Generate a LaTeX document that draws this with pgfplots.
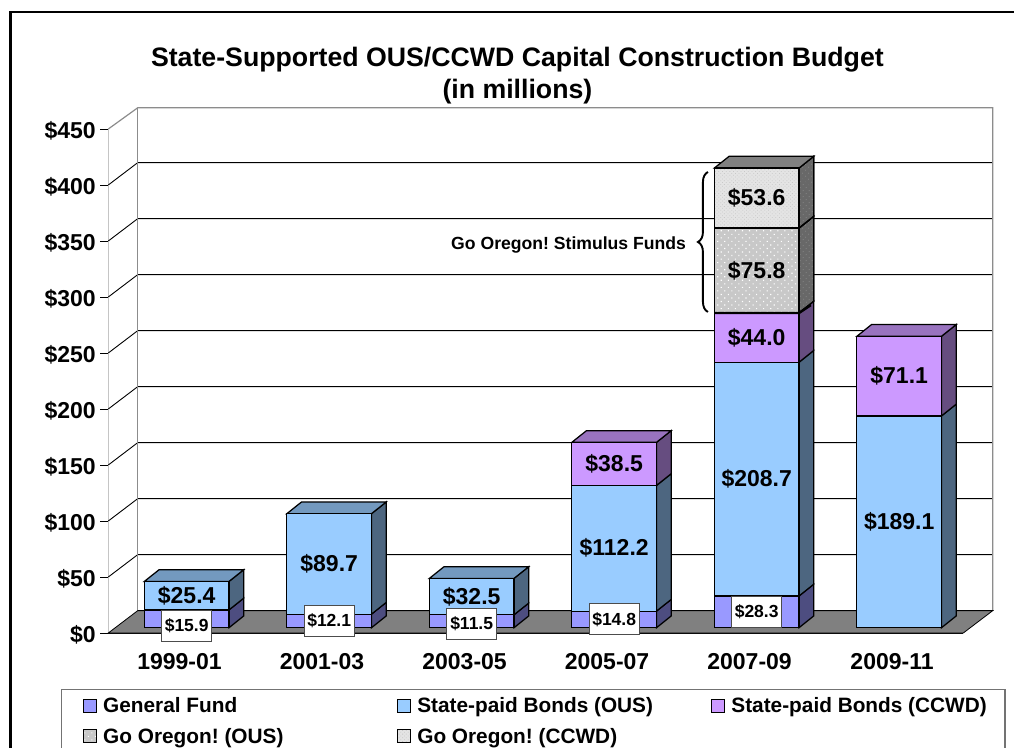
\documentclass[border=0pt]{standalone}
\usepackage{pgfplots}
\usepackage{pgfplotstable}
\usepackage{fontspec}
\pgfplotsset{compat=1.18}
\usetikzlibrary{patterns.meta,decorations.pathreplacing}
\setmainfont{Liberation Sans}
\frenchspacing
\newcommand\fs[1]{\fontsize{#1}{#1}\selectfont\bfseries}
\definecolor{gfF}{HTML}{9999FF}\definecolor{gfS}{HTML}{4D4D80}
\definecolor{ouF}{HTML}{99CCFF}\definecolor{ouS}{HTML}{4D6680}\definecolor{ouT}{HTML}{7399BF}
\definecolor{ccF}{HTML}{CC99FF}\definecolor{ccS}{HTML}{664D80}\definecolor{ccT}{HTML}{9973BF}
\definecolor{goA}{HTML}{C8C8C8}\definecolor{goB}{HTML}{E4E4E4}
\definecolor{goS}{HTML}{686868}\definecolor{goT}{HTML}{808080}
\pgfplotstableread{
x     gf    ous    ccwd  goous gocc
0.55  15.9  25.4   0     0     0
1.55  12.1  89.7   0     0     0
2.55  11.5  32.5   0     0     0
3.55  14.8  112.2  38.5  0     0
4.55  28.3  208.7  44.0  75.8  53.6
5.55  0     189.1  71.1  0     0
}\budget
% side face and top face of a bar segment (data units; depth 0.103 / 10.45)
\newcommand\sideface[4]{% right x, low, high, colour
  \pgfmathsetmacro\rr{#1+0.103}\pgfmathsetmacro\lo{#2+10.45}\pgfmathsetmacro\hh{#3+10.45}
  \addplot[draw=black,line width=1.25pt,fill=#4] coordinates {(#1,#2)(\rr,\lo)(\rr,\hh)(#1,#3)} -- cycle;}
\newcommand\sidepat[3]{% right x, low, high
  \pgfmathsetmacro\rr{#1+0.103}\pgfmathsetmacro\lo{#2+10.45}\pgfmathsetmacro\hh{#3+10.45}
  \addplot[draw=black,line width=1.25pt,fill=goS,postaction={pattern={Dots[distance=4pt,radius=0.7pt,angle=45]},pattern color=goT}] coordinates {(#1,#2)(\rr,\lo)(\rr,\hh)(#1,#3)} -- cycle;}
\newcommand\topface[3]{% left x, high, colour
  \pgfmathsetmacro\rr{#1+0.594}\pgfmathsetmacro\ll{#1+0.103}\pgfmathsetmacro\rb{#1+0.697}\pgfmathsetmacro\hh{#2+10.45}
  \addplot[draw=black,line width=1.25pt,fill=#3] coordinates {(#1,#2)(\ll,\hh)(\rb,\hh)(\rr,#2)} -- cycle;}
\newcommand\lab[3]{\node[font=\fs{23}] at (axis cs:#1,#2) {\$#3};}
\newcommand\blab[3]{\node[font=\fs{17.5},fill=white,draw=black!70,line width=0.8pt,minimum width=50pt,minimum height=31pt,inner sep=0pt] at (axis cs:#1,#2) {\$#3};}
\pgfplotsset{
  legimg/.style={legend image code/.code={\draw[##1,line width=1pt] (0pt,-6.5pt) rectangle (13pt,6.5pt);\path (17pt,0pt);}},
  gridl/.style={draw=black,line width=0.9pt,forget plot},
  layer/.style={scale only axis,width=855pt,height=504pt,xmin=0,xmax=6,ymin=0,ymax=450,clip=false},
}
\begin{document}
\begin{tikzpicture}[x=1pt,y=1pt]
\path[use as bounding box,clip] (0,0) rectangle (1014,747);
\draw[black,line width=2.6pt] (10.5,-10) -- (10.5,734.8) -- (1020,734.8);
% --- frame
\begin{axis}[layer,anchor=origin,at={(108.3pt,114pt)},
  axis x line*=bottom,axis y line*=left,
  x axis line style={black,line width=1.1pt},
  y axis line style={color=black!65,line width=1.3pt},
  xtick={0.5,1.5,2.5,3.5,4.5,5.5},
  xticklabels={1999-01,2001-03,2003-05,2005-07,2007-09,2009-11},
  extra x ticks={0,1,2,3,4,5,6},extra x tick labels={},
  extra x tick style={major tick length=8pt,tick style={black,line width=0.9pt}},
  x tick style={draw=none},
  ytick={0,50,100,150,200,250,300,350,400,450},
  yticklabels={\$0,\$50,\$100,\$150,\$200,\$250,\$300,\$350,\$400,\$450},
  y tick style={black,line width=0.9pt},
  tick align=outside,major tick length=8pt,
  xticklabel style={font=\fs{23},yshift=-9pt},
  yticklabel style={font=\fs{23},xshift=-1pt,yshift=-2pt},
  title={State-Supported OUS/CCWD Capital Construction Budget\\[5pt](in millions)},
  title style={font=\fs{26.7},align=center,at={(0.4785,1.0)},anchor=south,yshift=15.5pt},
]
\addplot[draw=none,fill=white,forget plot] coordinates {(0,0)(0.207,19.6)(0.207,469)(0,450)} -- cycle;
\addplot[gridl] coordinates {(0,50)(0.207,70)(6.207,70)};
\addplot[gridl] coordinates {(0,100)(0.207,120)(6.207,120)};
\addplot[gridl] coordinates {(0,150)(0.207,170)(6.207,170)};
\addplot[gridl] coordinates {(0,200)(0.207,220)(6.207,220)};
\addplot[gridl] coordinates {(0,250)(0.207,270)(6.207,270)};
\addplot[gridl] coordinates {(0,300)(0.207,320)(6.207,320)};
\addplot[gridl] coordinates {(0,350)(0.207,370)(6.207,370)};
\addplot[gridl] coordinates {(0,400)(0.207,420)(6.207,420)};
\addplot[draw=black!45,line width=1.2pt,forget plot] coordinates {(0,450)(0.207,469)(6.207,469)(6.207,20)};
\addplot[draw=black!45,line width=1.2pt,forget plot] coordinates {(0.207,20)(0.207,469)};
\addplot[draw=black,line width=0.8pt,fill=black!50,forget plot] coordinates {(0,0)(0.207,20)(6.207,20)(6,0)} -- cycle;
\end{axis}
% --- side and top faces
\begin{axis}[layer,hide axis,anchor=origin,at={(108.3pt,119.3pt)}]
\sideface{0.847}{0}{15.9}{gfS}\sideface{0.847}{15.9}{41.3}{ouS}\topface{0.253}{41.3}{ouT}
\sideface{1.847}{0}{12.1}{gfS}\sideface{1.847}{12.1}{101.8}{ouS}\topface{1.253}{101.8}{ouT}
\sideface{2.847}{0}{11.5}{gfS}\sideface{2.847}{11.5}{44.0}{ouS}\topface{2.253}{44.0}{ouT}
\sideface{3.847}{0}{14.8}{gfS}\sideface{3.847}{14.8}{127.0}{ouS}\sideface{3.847}{127.0}{165.5}{ccS}\topface{3.253}{165.5}{ccT}
\sideface{4.847}{0}{28.3}{gfS}\sideface{4.847}{28.3}{237.0}{ouS}\sideface{4.847}{237.0}{281.0}{ccS}
\sidepat{4.847}{281.0}{356.8}\sidepat{4.847}{356.8}{410.4}\topface{4.253}{410.4}{goT}
\sideface{5.847}{0}{189.1}{ouS}\sideface{5.847}{189.1}{260.2}{ccS}\topface{5.253}{260.2}{ccT}
\end{axis}
% --- front faces, stacked
\begin{axis}[layer,hide axis,anchor=origin,at={(108.3pt,119.3pt)},
  ybar stacked,bar width=84.7pt,
  legend columns=3,legend cell align=left,
  legend style={at={(-0.0553,-0.1216)},anchor=north west,draw=black!55,line width=1.1pt,
    font=\fs{20.8},row sep=10pt,inner xsep=21.5pt,inner ysep=6pt,
    nodes={inner sep=2pt}},
]
\addplot[legimg,draw=black,line width=1.25pt,fill=gfF] table[x=x,y=gf]{\budget};
\addplot[legimg,draw=black,line width=1.25pt,fill=ouF] table[x=x,y=ous]{\budget};
\addplot[legimg,draw=black,line width=1.25pt,fill=ccF] table[x=x,y=ccwd]{\budget};
\addplot[legimg,draw=black,line width=1.25pt,fill=goA,postaction={pattern={Dots[distance=5pt,radius=0.8pt,angle=45]},pattern color=white}] table[x=x,y=goous]{\budget};
\addplot[legimg,draw=black,line width=1.25pt,fill=goB,postaction={pattern={Dots[distance=2.6pt,radius=0.55pt,angle=45]},pattern color=goA}] table[x=x,y=gocc]{\budget};
\legend{\makebox[292pt][l]{General Fund},\makebox[292pt][l]{State-paid Bonds (OUS)},\makebox[250pt][l]{State-paid Bonds (CCWD)},Go Oregon! (OUS),Go Oregon! (CCWD)}
\end{axis}
% --- labels and brace, above the bars
\begin{axis}[layer,hide axis,anchor=origin,at={(108.3pt,119.3pt)}]
\draw[black,line width=2.4pt] (axis cs:4.253,281) -- (axis cs:4.847,281) -- (axis cs:4.93,288);
\draw[black,line width=1.9pt,decorate,decoration={brace,amplitude=10pt}] (axis cs:4.208,281.9) -- (axis cs:4.208,406.9);
\node[font=\fs{17.6}] at (axis cs:3.23,342) {Go Oregon! Stimulus Funds};
\lab{0.55}{28.6}{25.4}\lab{1.55}{57}{89.7}\lab{2.55}{27.75}{32.5}\lab{3.55}{71}{112.2}\lab{3.55}{146.25}{38.5}
\lab{4.55}{132.7}{208.7}\lab{4.55}{259}{44.0}\lab{4.55}{318.9}{75.8}\lab{4.55}{383.6}{53.6}
\lab{5.55}{94.55}{189.1}\lab{5.55}{224.65}{71.1}
\blab{0.55}{2}{15.9}\blab{1.55}{6}{12.1}\blab{2.55}{3.6}{11.5}\blab{3.55}{7.5}{14.8}\blab{4.55}{14}{28.3}
\end{axis}
\end{tikzpicture}
\end{document}
